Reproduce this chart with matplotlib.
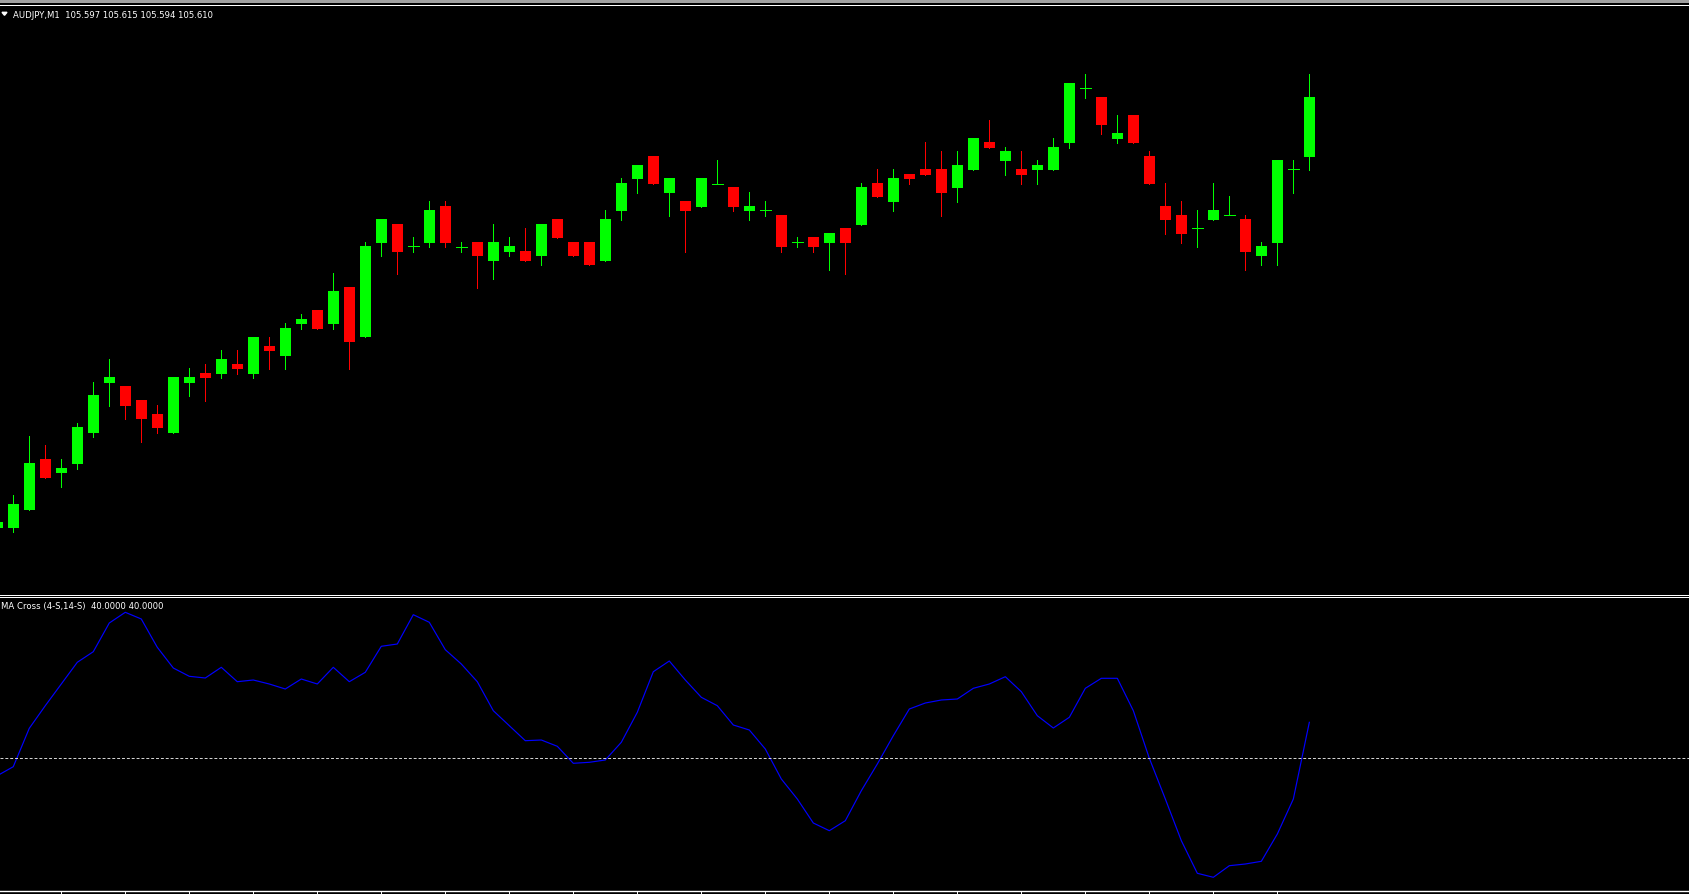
import numpy as np
import matplotlib.pyplot as plt
from matplotlib.lines import Line2D
from matplotlib.patches import Polygon, Rectangle

# AUDJPY M1 candles, bar index -1 .. 81 (first one is cut by the left edge)
bars = np.arange(-1, 82)
opens = [105.5164, 105.5164, 105.5203, 105.5313, 105.5283, 105.5302, 105.5370, 105.5478,
         105.5472, 105.5441, 105.5411, 105.5370, 105.5478, 105.5500, 105.5498, 105.5520,
         105.5498, 105.5559, 105.5537, 105.5607, 105.5637, 105.5607, 105.5687, 105.5578,
         105.5783, 105.5824, 105.5776, 105.5783, 105.5863, 105.5775, 105.5785, 105.5743,
         105.5763, 105.5765, 105.5754, 105.5835, 105.5785, 105.5785, 105.5743, 105.5852,
         105.5922, 105.5972, 105.5891, 105.5874, 105.5861, 105.5912, 105.5904, 105.5852,
         105.5854, 105.5843, 105.5784, 105.5796, 105.5783, 105.5815, 105.5822, 105.5913,
         105.5872, 105.5933, 105.5943, 105.5943, 105.5902, 105.5941, 105.6002, 105.5961,
         105.5943, 105.5941, 105.5941, 105.6000, 105.6119, 105.6100, 105.6009, 105.6061,
         105.5972, 105.5863, 105.5843, 105.5815, 105.5833, 105.5843, 105.5835, 105.5754,
         105.5783, 105.5943, 105.5970]
highs = [105.5177, 105.5235, 105.5363, 105.5344, 105.5313, 105.5391, 105.5480, 105.5530,
         105.5472, 105.5441, 105.5430, 105.5491, 105.5511, 105.5520, 105.5550, 105.5550,
         105.5578, 105.5578, 105.5609, 105.5628, 105.5637, 105.5717, 105.5687, 105.5785,
         105.5835, 105.5824, 105.5796, 105.5874, 105.5874, 105.5785, 105.5785, 105.5824,
         105.5796, 105.5815, 105.5824, 105.5835, 105.5785, 105.5785, 105.5854, 105.5924,
         105.5952, 105.5972, 105.5924, 105.5874, 105.5924, 105.5963, 105.5904, 105.5894,
         105.5874, 105.5843, 105.5796, 105.5796, 105.5804, 105.5815, 105.5913, 105.5943,
         105.5943, 105.5933, 105.6002, 105.5983, 105.5983, 105.6011, 105.6050, 105.5991,
         105.5983, 105.5963, 105.6011, 105.6130, 105.6150, 105.6100, 105.6061, 105.6061,
         105.5983, 105.5913, 105.5874, 105.5854, 105.5913, 105.5885, 105.5843, 105.5785,
         105.5963, 105.5963, 105.6150]
lows = [105.5162, 105.5154, 105.5203, 105.5272, 105.5252, 105.5291, 105.5361, 105.5428,
        105.5400, 105.5350, 105.5370, 105.5370, 105.5450, 105.5439, 105.5489, 105.5498,
        105.5489, 105.5509, 105.5509, 105.5596, 105.5596, 105.5596, 105.5509, 105.5578,
        105.5754, 105.5715, 105.5763, 105.5774, 105.5774, 105.5763, 105.5685, 105.5704,
        105.5754, 105.5743, 105.5735, 105.5793, 105.5754, 105.5735, 105.5743, 105.5833,
        105.5891, 105.5911, 105.5841, 105.5763, 105.5861, 105.5912, 105.5852, 105.5833,
        105.5841, 105.5763, 105.5774, 105.5763, 105.5724, 105.5715, 105.5822, 105.5883,
        105.5852, 105.5911, 105.5930, 105.5841, 105.5872, 105.5941, 105.5989, 105.5930,
        105.5911, 105.5911, 105.5941, 105.5989, 105.6098, 105.6020, 105.6000, 105.6000,
        105.5911, 105.5802, 105.5783, 105.5774, 105.5833, 105.5843, 105.5724, 105.5735,
        105.5735, 105.5891, 105.5941]
closes = [105.5175, 105.5215, 105.5304, 105.5272, 105.5294, 105.5383, 105.5452, 105.5491,
          105.5428, 105.5400, 105.5380, 105.5491, 105.5491, 105.5489, 105.5530, 105.5509,
          105.5578, 105.5548, 105.5598, 105.5617, 105.5596, 105.5678, 105.5567, 105.5776,
          105.5835, 105.5763, 105.5776, 105.5854, 105.5783, 105.5775, 105.5754, 105.5785,
          105.5776, 105.5743, 105.5824, 105.5793, 105.5754, 105.5735, 105.5835, 105.5913,
          105.5952, 105.5911, 105.5924, 105.5852, 105.5924, 105.5912, 105.5861, 105.5863,
          105.5854, 105.5774, 105.5784, 105.5774, 105.5804, 105.5783, 105.5904, 105.5883,
          105.5924, 105.5922, 105.5930, 105.5891, 105.5952, 105.6011, 105.5989, 105.5983,
          105.5930, 105.5952, 105.5991, 105.6130, 105.6119, 105.6039, 105.6022, 105.6000,
          105.5911, 105.5833, 105.5802, 105.5815, 105.5854, 105.5843, 105.5763, 105.5776,
          105.5963, 105.5943, 105.6100]

# MA Cross (4-S,14-S) line, same bars
ma_cross = [-0.00174, -0.00084, 0.00300, 0.00526, 0.00743, 0.00960, 0.01066, 0.01353,
            0.01460, 0.01393, 0.01110, 0.00903, 0.00820, 0.00803, 0.00910, 0.00766,
            0.00783, 0.00743, 0.00693, 0.00793, 0.00743, 0.00910, 0.00766, 0.00860,
            0.01120, 0.01143, 0.01436, 0.01360, 0.01086, 0.00943, 0.00766, 0.00476,
            0.00326, 0.00176, 0.00183, 0.00120, -0.00050, -0.00040, -0.00017, 0.00160,
            0.00460, 0.00866, 0.00973, 0.00783, 0.00610, 0.00526, 0.00333, 0.00283,
            0.00093, -0.00207, -0.00407, -0.00647, -0.00724, -0.00624, -0.00324, -0.00057,
            0.00226, 0.00493, 0.00553, 0.00583, 0.00593, 0.00700, 0.00743, 0.00816,
            0.00666, 0.00426, 0.00303, 0.00410, 0.00700, 0.00800, 0.00800, 0.00476,
            0.00000, -0.00407, -0.00824, -0.01150, -0.01190, -0.01074, -0.01057, -0.01030,
            -0.00757, -0.00407, 0.00360]
ma_level = 0.0

header = "AUDJPY,M1  105.597 105.615 105.594 105.610"
sub_header = "MA Cross (4-S,14-S)  40.0000 40.0000"

W, H = 1690, 895
fig = plt.figure(figsize=(W / 100, H / 100), dpi=100, facecolor="black")


def fy(y):
    return 1 - y / H


def px_axes(top, bottom):
    ax = fig.add_axes([0, fy(bottom), 1, (bottom - top) / H])
    ax.set_facecolor("black")
    for s in ax.spines.values():
        s.set_visible(False)
    ax.set_xlim(-0.83, 104.79)
    return ax


ax = px_axes(6.5, 595.7)
ax.set_ylim(105.5018, 105.6299)
ax.set_xticks([])
ax.set_yticks([])

op = np.array(opens)
cl = np.array(closes)
up = cl >= op
colors = np.where(up, "#00ff00", "#ff0000")
bw = 11 / 16

ax.vlines(bars, lows, highs, colors=colors, linewidth=0.7, antialiased=False)
bottoms = np.minimum(op, cl)
heights = np.abs(cl - op)
ax.bar(bars, heights, width=bw, bottom=bottoms, color=colors, linewidth=0,
       antialiased=False)
doji = heights == 0
ax.hlines(op[doji], bars[doji] - bw / 2, bars[doji] + bw / 2, colors=colors[doji],
          linewidth=0.7, antialiased=False)

ax2 = px_axes(597.3, 892.3)
ax2.set_ylim(-0.0133, 0.0162)
ax2.plot(bars, ma_cross, color="#0000ff", linewidth=0.85)
ax2.axhline(ma_level, color="#d8d8d8", linewidth=0.7, dashes=(3, 2))
ax2.spines["bottom"].set_visible(True)
ax2.spines["bottom"].set_color("white")
ax2.spines["bottom"].set_linewidth(1.0)
ax2.set_yticks([])
ax2.set_xticks(np.arange(3, 80, 4))
ax2.set_xticklabels([])
ax2.tick_params(axis="x", direction="out", length=2.5, width=0.7, color="white")

# window frame lines
fig.add_artist(Rectangle((0, fy(3.5)), 1, 3.5 / H, transform=fig.transFigure,
                         color="#a0a0a0", linewidth=0))
for yy in (5.8, 595.9, 597.8):
    fig.add_artist(Line2D([0, 1], [fy(yy), fy(yy)], transform=fig.transFigure,
                          color="white", linewidth=0.7, antialiased=False))

# labels
fig.add_artist(Polygon([[2 / W, fy(13.3)], [7 / W, fy(13.3)], [4.5 / W, fy(16.3)]],
                       closed=True, transform=fig.transFigure, color="white"))
fig.text(13 / W, fy(15), header, color="white", fontsize=6.1,
         family="DejaVu Sans", va="center", ha="left")
fig.text(1.5 / W, fy(607), sub_header, color="white", fontsize=6.1,
         family="DejaVu Sans", va="center", ha="left")

fig.savefig("out.png", dpi=100, facecolor="black")
